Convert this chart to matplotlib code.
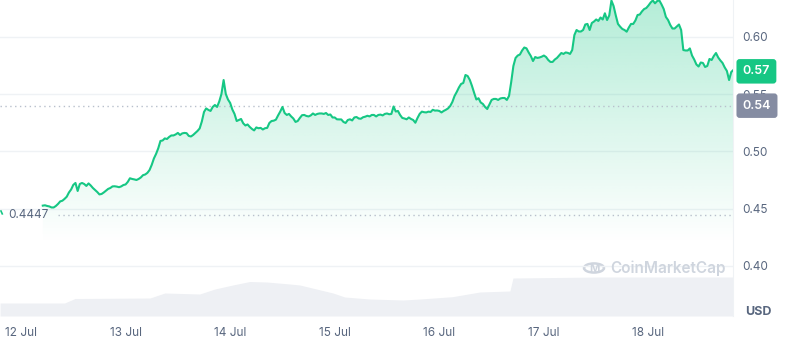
import numpy as np
import matplotlib
matplotlib.use("Agg")
import matplotlib.pyplot as plt
from matplotlib.patches import Circle

plt.rcParams['font.family'] = ['Inter', 'DejaVu Sans']

# ---------------- data ----------------
# half-hourly prices (USD), first value at 12 Jul 05:00
first_hour = 5
step_hours = 0.5
prices = [
    0.4527, 0.4530, 0.4524, 0.4520, 0.4511, 0.4511, 0.4524, 0.4542, 0.4564, 0.4570,
    0.4586, 0.4605, 0.4642, 0.4668, 0.4708, 0.4725, 0.4655, 0.4716, 0.4725, 0.4716,
    0.4699, 0.4721, 0.4703, 0.4681, 0.4664, 0.4646, 0.4625, 0.4629, 0.4642, 0.4658,
    0.4673, 0.4681, 0.4695, 0.4696, 0.4693, 0.4688, 0.4695, 0.4707, 0.4712, 0.4734,
    0.4766, 0.4760, 0.4756, 0.4751, 0.4760, 0.4773, 0.4793, 0.4799, 0.4813, 0.4838,
    0.4883, 0.4939, 0.4979, 0.5028, 0.5092, 0.5096, 0.5114, 0.5109, 0.5127, 0.5140,
    0.5140, 0.5149, 0.5162, 0.5144, 0.5158, 0.5162, 0.5160, 0.5136, 0.5131, 0.5144,
    0.5162, 0.5179, 0.5201, 0.5262, 0.5345, 0.5376, 0.5363, 0.5354, 0.5389, 0.5406,
    0.5389, 0.5437, 0.5502, 0.5624, 0.5502, 0.5454, 0.5424, 0.5367, 0.5328, 0.5266,
    0.5275, 0.5284, 0.5246, 0.5227, 0.5236, 0.5214, 0.5197, 0.5184, 0.5210, 0.5203,
    0.5206, 0.5192, 0.5203, 0.5206, 0.5249, 0.5266, 0.5269, 0.5278, 0.5315, 0.5349,
    0.5389, 0.5336, 0.5319, 0.5328, 0.5306, 0.5288, 0.5258, 0.5266, 0.5293, 0.5317,
    0.5319, 0.5310, 0.5306, 0.5315, 0.5332, 0.5319, 0.5328, 0.5332, 0.5332, 0.5328,
    0.5336, 0.5319, 0.5323, 0.5297, 0.5297, 0.5281, 0.5280, 0.5280, 0.5258, 0.5249,
    0.5275, 0.5281, 0.5271, 0.5297, 0.5301, 0.5288, 0.5286, 0.5299, 0.5304, 0.5312,
    0.5306, 0.5319, 0.5319, 0.5306, 0.5319, 0.5322, 0.5315, 0.5328, 0.5332, 0.5325,
    0.5328, 0.5393, 0.5349, 0.5354, 0.5319, 0.5293, 0.5288, 0.5281, 0.5297, 0.5284,
    0.5275, 0.5251, 0.5293, 0.5329, 0.5348, 0.5343, 0.5341, 0.5348, 0.5345, 0.5364,
    0.5357, 0.5358, 0.5354, 0.5341, 0.5354, 0.5364, 0.5376, 0.5397, 0.5433, 0.5485,
    0.5520, 0.5559, 0.5590, 0.5598, 0.5668, 0.5659, 0.5625, 0.5572, 0.5511, 0.5454,
    0.5465, 0.5428, 0.5415, 0.5389, 0.5371, 0.5410, 0.5450, 0.5459, 0.5459, 0.5450,
    0.5463, 0.5467, 0.5467, 0.5450, 0.5485, 0.5607, 0.5747, 0.5817, 0.5838, 0.5847,
    0.5882, 0.5908, 0.5901, 0.5865, 0.5834, 0.5790, 0.5825, 0.5817, 0.5821, 0.5828,
    0.5838, 0.5825, 0.5799, 0.5782, 0.5782, 0.5803, 0.5817, 0.5838, 0.5860, 0.5852,
    0.5865, 0.5861, 0.5852, 0.5886, 0.6017, 0.6061, 0.6048, 0.6048, 0.6061, 0.6109,
    0.6114, 0.6061, 0.6122, 0.6135, 0.6153, 0.6140, 0.6170, 0.6153, 0.6207, 0.6148,
    0.6188, 0.6318, 0.6270, 0.6188, 0.6114, 0.6090, 0.6070, 0.6061, 0.6046, 0.6083,
    0.6114, 0.6114, 0.6144, 0.6192, 0.6196, 0.6223, 0.6244, 0.6253, 0.6275, 0.6301,
    0.6319, 0.6294, 0.6314, 0.6319, 0.6284, 0.6244, 0.6175, 0.6148, 0.6105, 0.6074,
    0.6074, 0.6092, 0.6109, 0.6061, 0.5886, 0.5882, 0.5882, 0.5900, 0.5838, 0.5803,
    0.5760, 0.5742, 0.5777, 0.5773, 0.5738, 0.5747, 0.5808, 0.5799, 0.5834, 0.5860,
    0.5821, 0.5795, 0.5773, 0.5734, 0.5703, 0.5624, 0.5694, 0.5712,
]
hours = first_hour + step_hours * np.arange(len(prices))

start_hours = [-4.6, -4.3]
start_prices = [0.4480, 0.4455]

open_price = 0.4447
ref_price = 0.54
last_price = 0.57

# volume (arbitrary units) at knot hours
vol_hours = [-4.8, 10, 12.4, 29.6, 33, 41, 44.5, 48.6, 52.5, 56.4, 61.7, 64, 71.6,
             74.3, 80, 87.7, 91.6, 99, 105.3, 112.2, 112.9, 132.9, 163.4]
vol_values = [13, 13, 17.5, 18, 23, 22, 27, 31, 34.5, 34, 32, 31, 23,
              19, 17, 16, 17, 19.3, 24, 25, 38, 39, 39]

day_ticks = [0, 24, 48, 72, 96, 120, 144]
day_labels = ['12 Jul', '13 Jul', '14 Jul', '15 Jul', '16 Jul', '17 Jul', '18 Jul']
price_ticks = [0.40, 0.45, 0.50, 0.55, 0.60]

# ---------------- style ----------------
GREEN = '#16c784'
GREY_TXT = '#58667e'
GRID = '#eff2f5'

W, H = 800, 364
fig = plt.figure(figsize=(W / 100, H / 100), dpi=100)
ax = fig.add_axes([0, 1 - 316 / H, 733 / W, 316 / H])
ax2 = ax.twinx()
ax.set_zorder(ax2.get_zorder() + 1)
ax.patch.set_visible(False)

xlim = (-4.82, 163.4)
ylim = (0.3563, 0.6323)

# volume
ax2.fill_between(vol_hours, vol_values, 0, color='#eef0f4', lw=0)
ax2.set_ylim(0, 316)
ax2.set_xlim(*xlim)
ax2.axis('off')

# grid
for p in price_ticks:
    ax.axhline(p, color=GRID, lw=1, zorder=0)

# gradient fill under price
poly = ax.fill_between(hours, prices, ylim[0], facecolor='none', edgecolor='none')
n = 256
y_vals = np.linspace(ylim[0], ylim[1], n)
a = np.clip((y_vals - 0.42) / (ylim[1] - 0.42), 0, 1) * 0.32
rgba = np.zeros((n, 2, 4))
rgba[..., 0] = 0x16 / 255
rgba[..., 1] = 0xc7 / 255
rgba[..., 2] = 0x84 / 255
rgba[..., 3] = a[:, None]
img = ax.imshow(rgba, extent=[xlim[0], xlim[1], ylim[0], ylim[1]], origin='lower',
                aspect='auto', zorder=1, interpolation='bilinear')
img.set_clip_path(poly.get_paths()[0], transform=ax.transData)
ax.set_xlim(*xlim)
ax.set_ylim(*ylim)

# dotted reference lines
ax.axhline(ref_price, color='#b8c0cc', lw=1, ls=(0, (1, 2.5)), zorder=2)
ax.plot([8.5, xlim[1]], [open_price, open_price], color='#b8c0cc', lw=1,
        ls=(0, (1, 2.5)), zorder=2)

# price line
ax.plot(hours, prices, color=GREEN, lw=1.5, zorder=3, solid_joinstyle='round')
ax.plot(start_hours, start_prices, color=GREEN, lw=1.2, zorder=3)

ax.text(8 / 733, open_price, '0.4447', transform=ax.get_yaxis_transform(),
        ha='left', va='center', fontsize=8.5, color=GREY_TXT)

# axes formatting
for s in ['top', 'left', 'bottom']:
    ax.spines[s].set_visible(False)
ax.spines['right'].set_color(GRID)
ax.yaxis.tick_right()
ax.set_yticks(price_ticks)
ax.set_yticklabels([f'{p:.2f}' for p in price_ticks])
ax.tick_params(axis='y', length=0, pad=7, labelsize=8.5, labelcolor=GREY_TXT)
ax.set_xticks(day_ticks)
ax.set_xticklabels(day_labels)
ax.tick_params(axis='x', length=0, pad=8, labelsize=8.5, labelcolor=GREY_TXT)

# price tags on right
ax.annotate(f'{last_price:.2f}', xy=(1.0, last_price), xycoords=('axes fraction', 'data'),
            xytext=(7, 0), textcoords='offset points', ha='left', va='center',
            fontsize=9, color='white', fontweight='semibold', zorder=5,
            bbox=dict(boxstyle='round,pad=0.5,rounding_size=0.25', fc=GREEN, ec='none'),
            annotation_clip=False)
ax.annotate(f'{ref_price:.2f}', xy=(1.0, ref_price), xycoords=('axes fraction', 'data'),
            xytext=(7, 0), textcoords='offset points', ha='left', va='center',
            fontsize=9, color='white', fontweight='semibold', zorder=5,
            bbox=dict(boxstyle='round,pad=0.5,rounding_size=0.25', fc='#858ca2', ec='none'),
            annotation_clip=False)

fig.text(745 / W, 1 - 312 / H, 'USD', ha='left', va='center', fontsize=9,
         fontweight='bold', color=GREY_TXT)

# watermark
fig.text(610 / W, 1 - 268 / H, 'CoinMarketCap', ha='left', va='center', fontsize=11,
         fontweight='semibold', color='#cfd5de')
fig.add_artist(Circle((594 / W, 1 - 268 / H), 10 / W, transform=fig.transFigure,
                      fill=False, ec='#cfd5de', lw=1.8))
fig.text(594 / W, 1 - 268.5 / H, 'M', ha='center', va='center', fontsize=8,
         fontweight='bold', color='#cfd5de')

fig.savefig('out.png', dpi=100)
